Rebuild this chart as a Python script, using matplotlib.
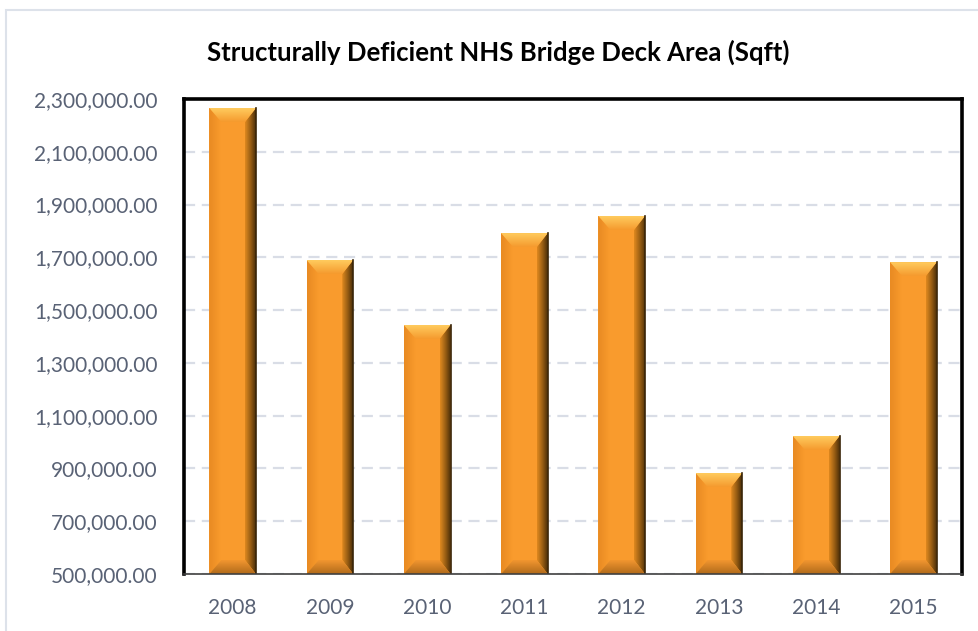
import numpy as np
import matplotlib
matplotlib.use("Agg")
import matplotlib.pyplot as plt
from matplotlib.patches import Polygon, Rectangle
from matplotlib.colors import LinearSegmentedColormap

years = ["2008", "2009", "2010", "2011", "2012", "2013", "2014", "2015"]
deck_area = [2266000, 1690000, 1444000, 1792000, 1857000, 883000, 1023000, 1682000]
y_ticks = list(range(500000, 2300001, 200000))

plt.rcParams["font.family"] = ["Lato", "DejaVu Sans"]

fig = plt.figure(figsize=(9.79, 6.31), dpi=100)
ax = fig.add_axes([0.188, 0.0903, 0.7947, 0.7528])

ymin, ymax = 500000, 2300000
ax.set_xlim(-0.5, len(years) - 0.5)
ax.set_ylim(ymin, ymax)

# data units per pixel, used for the bevel sizes
px_x = len(years) / (0.7947 * 979)
px_y = (ymax - ymin) / (0.7528 * 631)

width = 0.48
x = np.arange(len(years))
bars = ax.bar(x, [v - ymin for v in deck_area], bottom=ymin, width=width,
              color="#F99B2D", edgecolor="none", zorder=3)


def shade(pts, colors, vertical, zorder=4):
    # gradient fill clipped to a polygon
    pts = np.array(pts)
    x0, x1 = pts[:, 0].min(), pts[:, 0].max()
    y0, y1 = pts[:, 1].min(), pts[:, 1].max()
    cmap = LinearSegmentedColormap.from_list("g", colors)
    grad = np.linspace(0, 1, 64)
    img = grad[:, None] if vertical else grad[None, :]
    poly = Polygon(pts, closed=True, facecolor="none", edgecolor="none")
    ax.add_patch(poly)
    im = ax.imshow(img, cmap=cmap, extent=(x0, x1, y0, y1), origin="lower",
                   aspect="auto", interpolation="bicubic", zorder=zorder)
    im.set_clip_path(poly)


for b in bars:
    l = b.get_x()
    r = l + b.get_width()
    bot = ymin
    top = ymin + b.get_height()
    bx, by = 12 * px_x, 14 * px_y
    rx = 11 * px_x
    # left face
    shade([(l, bot), (l + bx, bot + by), (l + bx, top - by), (l, top)],
          ["#E88A22", "#F99B2D"], vertical=False)
    # right face
    shade([(r, bot), (r - rx, bot + by), (r - rx, top - by), (r, top)],
          ["#E0891F", "#9A5F14", "#4A2E08"], vertical=False)
    # top bevel
    shade([(l, top), (r, top), (r - rx, top - by), (l + bx, top - by)],
          ["#F59A2E", "#FFCB5E"], vertical=True, zorder=5)
    # bottom bevel
    shade([(l, bot), (r, bot), (r - rx, bot + by), (l + bx, bot + by)],
          ["#B06A1A", "#F29630"], vertical=True, zorder=5)
    # thin dark outline on the right edge
    ax.plot([r, r], [bot, top], color="#3A2508", lw=1.2, zorder=6)

ax.set_xticks(x)
ax.set_xticklabels(years)
ax.set_yticks(y_ticks)
ax.set_yticklabels([f"{v:,.2f}" for v in y_ticks])
ax.tick_params(axis="both", length=0, labelsize=15, colors="#596275")
ax.tick_params(axis="y", pad=19)
ax.tick_params(axis="x", pad=17)

ax.grid(axis="y", color="#D9DDE6", linestyle=(0, (5, 3)), lw=1.6, zorder=0)
ax.set_axisbelow(True)

for side in ["top", "left", "right"]:
    ax.spines[side].set_linewidth(2.6)
    ax.spines[side].set_color("black")
ax.spines["bottom"].set_linewidth(1.2)
ax.spines["bottom"].set_color("#404040")
for s in ax.spines.values():
    s.set_zorder(7)

fig.text(0.509, 0.917, "Structurally Deficient NHS Bridge Deck Area (Sqft)",
         ha="center", va="center", fontsize=18.5, fontweight="bold", color="black")

# outer chart frame
fig.patches.append(Rectangle((6 / 979, -0.05), 1.0, 1.05 - 10 / 631,
                             transform=fig.transFigure, fill=False,
                             edgecolor="#DDE2EA", lw=1.5))

fig.savefig("out.png", dpi=100)
